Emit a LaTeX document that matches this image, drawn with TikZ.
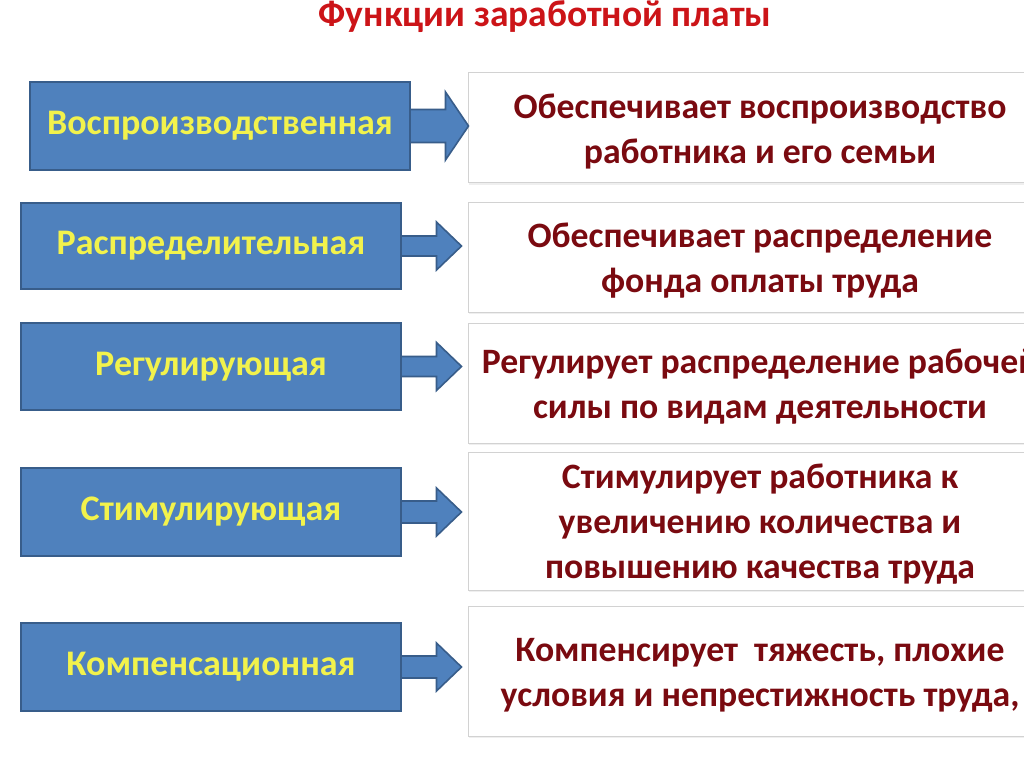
\documentclass[tikz,border=0pt]{standalone}
\usepackage{fontspec}
\setmainfont{Carlito}
\usetikzlibrary{calc,shadows}
\definecolor{boxblue}{HTML}{4F81BD}
\definecolor{boxedge}{HTML}{385D8A}
\definecolor{fnyellow}{HTML}{F2F24C}
\definecolor{descred}{HTML}{7A0A10}
\definecolor{titlered}{HTML}{CC1418}
\definecolor{paleedge}{HTML}{D2D2D2}
\tikzset{
  funcbox/.style={draw=boxedge, line width=2pt, fill=boxblue, minimum width=380pt,
    inner sep=0pt, text=fnyellow, font=\fontsize{36}{42}\selectfont\bfseries},
  descbox/.style={draw=paleedge, line width=1pt, fill=white, minimum width=584pt,
    inner sep=0pt,
    drop shadow={opacity=0.12, shadow xshift=1pt, shadow yshift=-2pt}},
  desctext/.style={inner sep=0pt, text=descred, align=center,
    font=\fontsize{35.7}{45}\selectfont\bfseries},
  bigarrow/.style={draw=boxedge, line width=1.6pt, fill=boxblue, line join=miter},
  titletext/.style={text=titlered, font=\fontsize{37.5}{40}\selectfont\bfseries, inner sep=0pt}
}
% #1 left node, #2 right node, #3 shaft half height, #4 head half height, #5 head length, #6 gap before box
\newcommand\fatarrow[6]{%
  \coordinate (#1tip) at ($(#1.east -| #2.west)+(-#6,0)$);
  \filldraw[bigarrow] ($(#1.east)+(0,-#3)$) -- ($(#1tip)+(-#5,-#3)$) -- ($(#1tip)+(-#5,-#4)$)
    -- (#1tip) -- ($(#1tip)+(-#5,#4)$) -- ($(#1tip)+(-#5,#3)$) -- ($(#1.east)+(0,#3)$);
}
\begin{document}
\begin{tikzpicture}[x=1pt,y=-1pt]
\useasboundingbox (0,0) rectangle (1024,767);
\clip (0,0) rectangle (1024,767);
\fill[white] (0,0) rectangle (1024,767);

\node[titletext] (title) at (545,17) {Функции заработной платы};

\node[funcbox, minimum height=88pt] (f1) at (220,126) {Воспроизводственная};
\node[funcbox, minimum height=86pt] (f2) at (211,246) {Распределительная};
\node[funcbox, minimum height=87pt] (f3) at (211,366.5) {Регулирующая};
\node[funcbox, minimum height=88pt] (f4) at (211,512) {Стимулирующая};
\node[funcbox, minimum height=88pt] (f5) at (211,667) {Компенсационная};

\node[descbox, minimum height=110pt] (d1) at (760,128) {};
\node[descbox, minimum height=109pt] (d2) at (760,257.5) {};
\node[descbox, minimum height=120pt] (d3) at (760,383) {};
\node[descbox, minimum height=138pt] (d4) at (760,521) {};
\node[descbox, minimum height=130pt] (d5) at (760,671) {};

\node[desctext] (t1) at ($(d1)+(0,3.5)$) {Обеспечивает воспроизводство\\работника и его семьи};
\node[desctext] (t2) at ($(d2)+(0,3.5)$) {Обеспечивает распределение\\фонда оплаты труда};
\node[desctext] (t3) at ($(d3)+(0,3.5)$) {Регулирует распределение рабочей\\силы по видам деятельности};
\node[desctext] (t4) at ($(d4)+(0,3.5)$) {Стимулирует работника к\\увеличению количества и\\повышению качества труда};
\node[desctext] (t5) at ($(d5)+(0,4)$) {Компенсирует~ тяжесть, плохие\\условия и непрестижность труда,};

\fatarrow{f1}{d1}{16.5}{34}{23}{-1}
\fatarrow{f2}{d2}{10}{24}{25}{6}
\fatarrow{f3}{d3}{10}{24}{25}{6}
\fatarrow{f4}{d4}{11}{24}{25}{6}
\fatarrow{f5}{d5}{11}{24}{25}{6}
\end{tikzpicture}
\end{document}
